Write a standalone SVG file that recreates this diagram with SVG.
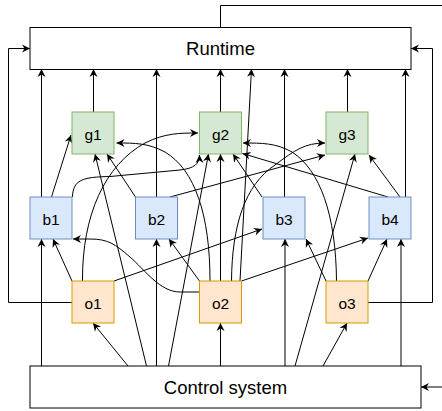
<svg xmlns="http://www.w3.org/2000/svg" width="442" height="411" viewBox="0 0 442 411">
<style>
.e{fill:none;stroke:#000;stroke-width:1}
.a{marker-end:url(#arr)}
.w{fill:#fff;stroke:#000;stroke-width:1}
.g{fill:#d5e8d4;stroke:#82b366;stroke-width:1}
.b{fill:#dae8fc;stroke:#6c8ebf;stroke-width:1}
.o{fill:#ffe6cc;stroke:#d79b00;stroke-width:1}
text{font-family:"Liberation Sans",Arial,sans-serif;fill:#000;text-anchor:middle}
.big{font-size:18.5px}
.sm{font-size:15.5px}
</style>
<defs>
<marker id="arr" markerUnits="userSpaceOnUse" markerWidth="10" markerHeight="10" viewBox="-9 -5 10 10" refX="0" refY="0" orient="auto">
<path d="M0,0 L-8,-4 L-5.5,0 L-8,4 Z" fill="#000"/>
</marker>
</defs>
<g id="connectors">
<path class="e" d="M220.5,27 V5.5 H442"/>
<path class="e a" d="M72,302.5 H8.5 V48.5 H30"/>
<path class="e a" d="M368,302.5 H432.5 V48.5 H411"/>
<path class="e a" d="M442,387 H421"/>
<path class="e a" d="M41.5,197 V69"/>
<path class="e a" d="M93.5,112 V69"/>
<path class="e a" d="M156.5,197 V69"/>
<path class="e a" d="M220.5,112 V69"/>
<path class="e a" d="M240,281 L251.5,69"/>
<path class="e a" d="M284.5,197 V69"/>
<path class="e a" d="M347.5,112 V69"/>
<path class="e a" d="M405.5,197 V69"/>
<path class="e a" d="M41.5,366 V239"/>
<path class="e a" d="M72,281 L53,239"/>
<path class="e a" d="M128,366 L93,323"/>
<path class="e a" d="M146.5,366 L95,154"/>
<path class="e a" d="M156.5,366 V239"/>
<path class="e a" d="M168.5,366 L208.5,154"/>
<path class="e a" d="M220.5,366 V323"/>
<path class="e a" d="M285,366 V239"/>
<path class="e a" d="M295,366 L355,154"/>
<path class="e a" d="M323,366 L347,323"/>
<path class="e a" d="M401,366 V239"/>
<path class="e a" d="M326,281 L306,239"/>
<path class="e a" d="M368,281 L387,239"/>
<path class="e a" d="M199.5,281 L169,239"/>
<path class="e a" d="M220.5,281 V154"/>
<path class="e a" d="M114,281 L262,229"/>
<path class="e a" d="M241.5,281 L368,238"/>
<path class="e a" d="M51.5,197 L71,135"/>
<path class="e a" d="M135.5,197 L107,154"/>
<path class="e a" d="M170,197 L325,155"/>
<path class="e a" d="M262,197 L233,154"/>
<path class="e a" d="M388,197 L242.5,153.5"/>
<path class="e a" d="M400,197 L369,155"/>
<path class="e a" d="M72.5,197 C73,180 82,177 110,176.5 L180,170 C194,168.5 199.5,164 199.5,155"/>
<path class="e a" d="M82.5,281 C82,215 105,165 145,143 C165,133 180,133 198,133"/>
<path class="e a" d="M210,281 C210,215 195,170 165,152 C148,143 135,143 116.5,143"/>
<path class="e a" d="M336.5,281 C336,215 320,170 292,152 C276,143 262,143 243,143"/>
<path class="e a" d="M231.5,281 C232,225 245,185 275,165 C295,150 305,143 325,143"/>
<path class="e a" d="M199.5,292 L180,292 C160,292 145,270 130,257 C115,244 108,239 90,239 L73,239"/>
</g>
<g id="runtime"><rect class="w" x="30" y="27.5" width="381" height="42"/><text class="big" x="220.5" y="54.5">Runtime</text></g>
<g id="control"><rect class="w" x="30" y="366" width="391" height="42"/><text class="big" x="225.5" y="393.5">Control system</text></g>
<g id="g1"><rect class="g" x="72" y="112" width="42" height="42"/><text class="sm" x="93" y="139.5">g1</text></g>
<g id="g2"><rect class="g" x="199.5" y="112" width="42" height="42"/><text class="sm" x="220.5" y="139.5">g2</text></g>
<g id="g3"><rect class="g" x="326" y="112" width="42" height="42"/><text class="sm" x="347" y="139.5">g3</text></g>
<g id="b1"><rect class="b" x="30" y="197" width="42" height="42"/><text class="sm" x="51" y="224.5">b1</text></g>
<g id="b2"><rect class="b" x="135.5" y="197" width="42" height="42"/><text class="sm" x="156.5" y="224.5">b2</text></g>
<g id="b3"><rect class="b" x="263" y="197" width="42" height="42"/><text class="sm" x="284" y="224.5">b3</text></g>
<g id="b4"><rect class="b" x="369" y="197" width="42" height="42"/><text class="sm" x="390" y="224.5">b4</text></g>
<g id="o1"><rect class="o" x="72" y="281" width="42" height="42"/><text class="sm" x="93" y="308.5">o1</text></g>
<g id="o2"><rect class="o" x="199.5" y="281" width="42" height="42"/><text class="sm" x="220.5" y="308.5">o2</text></g>
<g id="o3"><rect class="o" x="326" y="281" width="42" height="42"/><text class="sm" x="347" y="308.5">o3</text></g>
</svg>
